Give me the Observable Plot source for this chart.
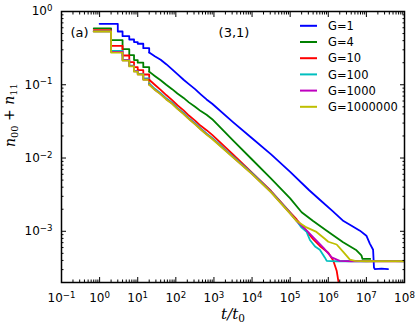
<!DOCTYPE html>
<html><head><meta charset="utf-8">
<script src="https://cdn.jsdelivr.net/npm/d3@7"></script>
<script src="https://cdn.jsdelivr.net/npm/@observablehq/plot@0.6"></script>
<style>body{margin:0;background:#fff}</style>
</head><body><div id="chart"></div>
<script>
const series = ["G=1","G=4","G=10","G=100","G=1000","G=1000000"];
const colors = ["#0000ff","#008000","#ff0000","#00bfbf","#bf00bf","#bfbf00"];

// early staircase times (t/t0)
const tEarlyG1 = [1,3,4,6,8];
const tEarly = [0.7,2,4,6,8];
const tMid = [10,14,20,28,40,56,80,110,160,220,320,450,640,900];

// early + mid values
const yStepG1 = [0.679,0.533,0.461,0.415,0.383, 0.363,0.316,0.275,0.245,0.219,0.191,0.162,0.140,0.117,0.102,0.0871,0.0741,0.0631,0.0550];
const yStepG4 = [0.589,0.407,0.307,0.254,0.217, 0.200,0.174,0.151,0.132,0.115,0.100,0.0871,0.0759,0.0661,0.0575,0.0501,0.0437,0.0389,0.0339];
const yStepG10 = [0.557,0.340,0.251,0.204,0.174, 0.158,0.138,0.117,0.100,0.0851,0.0724,0.0617,0.0525,0.0447,0.0380,0.0324,0.0275,0.0240,0.0207];
const yStepG100 = [0.537,0.291,0.219,0.182,0.155, 0.141,0.122,0.104,0.0881,0.0767,0.0653,0.0569,0.0484,0.0412,0.0351,0.0299,0.0254,0.0216,0.0188];
const yStepG1000 = [0.535,0.280,0.216,0.180,0.153, 0.139,0.118,0.101,0.0857,0.0746,0.0636,0.0554,0.0472,0.0401,0.0342,0.0291,0.0247,0.0211,0.0184];
const yStepG1e6 = [0.533,0.275,0.214,0.178,0.151, 0.138,0.117,0.100,0.0851,0.0741,0.0631,0.0550,0.0468,0.0398,0.0339,0.0288,0.0245,0.0209,0.0182];

// late-time values
const tLateG1 = [3160,1e4,3.16e4,1e5,3.16e5,6.31e5,1.26e6,2.51e6,3.98e6,6.76e6,1e7,1.23e7,1.5e7,1.58e7,1.66e7,2.5e7,3.7e7];
const yLateG1 = [0.0309,0.0186,0.0112,0.00646,0.00363,0.00263,0.00191,0.00138,0.00120,0.00102,8.7e-4,6.8e-4,5.6e-4,3.2e-4,3.05e-4,3.1e-4,3.05e-4];
const tLateG4 = [3160,1e4,3.16e4,1e5,2e5,4e5,9.1e5,2.45e6,5.5e6,7.4e6,7.9e6,1.26e7];
const yLateG4 = [0.0174,0.00955,0.00525,0.00282,0.00182,0.00138,0.00102,7.1e-4,5.5e-4,4.7e-4,4.2e-4,4.2e-4];
const tLateG10 = [3160,1e4,3.16e4,1e5,1.48e5,2.5e5,4e5,6e5,1e6,1.35e6,1.66e6,2e6,2.24e6];
const yLateG10 = [0.0112,0.00631,0.00355,0.00182,0.00145,0.00105,7.8e-4,6.3e-4,5.1e-4,4.0e-4,2.9e-4,1.6e-4,1e-4];
const tLateG100 = [3160,1e4,3.16e4,1e5,1.48e5,2e5,2.7e5,3.3e5,4.5e5,6e5,8.1e5,9.1e5,1.6e6,3.2e6,1e7,3.2e7,1e8];
const yLateG100 = [0.0105,0.0062,0.00347,0.00178,0.00138,0.00112,9.8e-4,7.6e-4,6.2e-4,5.6e-4,4.4e-4,3.95e-4,3.9e-4,3.93e-4,3.9e-4,3.95e-4,3.9e-4];
const tLateG1000 = [3160,1e4,3.16e4,1e5,1.48e5,2.5e5,4e5,7.4e5,1.23e6,2e6,4e6,1e7,1e8];
const yLateG1000 = [0.0103,0.00608,0.00342,0.00176,0.00138,0.00107,8.3e-4,6.0e-4,4.4e-4,3.95e-4,3.9e-4,3.9e-4,3.9e-4];
const tLateG1e6 = [3160,1e4,3.16e4,1e5,1.48e5,2.5e5,4.9e5,8.1e5,1e6,1.66e6,2.5e6,3.7e6,5e6,1e7,1e8];
const yLateG1e6 = [0.0102,0.00603,0.00339,0.00174,0.00138,0.00115,9.8e-4,7.9e-4,7.2e-4,6.6e-4,5.2e-4,4.1e-4,3.95e-4,3.9e-4,3.9e-4];

// tick values
const xMajor = [1e-1,1e0,1e1,1e2,1e3,1e4,1e5,1e6,1e7,1e8];
const yMajor = [1e-3,1e-2,1e-1,1e0];

const stepY = [yStepG1,yStepG4,yStepG10,yStepG100,yStepG1000,yStepG1e6];
const lateT = [tLateG1,tLateG4,tLateG10,tLateG100,tLateG1000,tLateG1e6];
const lateY = [yLateG1,yLateG4,yLateG10,yLateG100,yLateG1000,yLateG1e6];

const stepRows = [], lateRows = [];
series.forEach((s, i) => {
  const ts = (i === 0 ? tEarlyG1 : tEarly).concat(tMid);
  ts.forEach((t, j) => {
    const row = {s, t, v: stepY[i][j]};
    if (t <= 20) stepRows.push(row);
    if (t >= 20) lateRows.push(row);
  });
  lateT[i].forEach((t, j) => lateRows.push({s, t, v: lateY[i][j]}));
});

const minorOf = (lo, hi) => { const a = []; for (let e = lo; e < hi; e++) for (let m = 2; m <= 9; m++) a.push(m * Math.pow(10, e)); return a; };
const xMinor = minorOf(-1, 8);
const yMinor = minorOf(-4, 0).filter(d => d >= 2e-4);
const fmt = d => "10^" + Math.round(Math.log10(d));

const chart = Plot.plot({
  width: 415, height: 331,
  marginLeft: 61, marginRight: 11, marginTop: 11, marginBottom: 49,
  style: {fontFamily: "DejaVu Sans", fontSize: "12px", background: "white", color: "black"},
  x: {type: "log", domain: [0.1, 1e8]},
  y: {type: "log", domain: [2e-4, 1]},
  color: {domain: series, range: colors},
  marks: [
    Plot.line(stepRows, {x: "t", y: "v", z: "s", stroke: "s", curve: "step-after", strokeWidth: 1.8, clip: true}),
    Plot.line(lateRows, {x: "t", y: "v", z: "s", stroke: "s", strokeWidth: 1.8, clip: true}),
    Plot.frame({stroke: "black", strokeWidth: 1.5}),
    Plot.axisX(xMajor, {anchor: "bottom", tickSize: -5, fill: "none", label: null}),
    Plot.axisX(xMajor, {anchor: "top", tickSize: -5, fill: "none", label: null}),
    Plot.axisX(xMinor, {anchor: "bottom", tickSize: -2.5, fill: "none", label: null}),
    Plot.axisX(xMinor, {anchor: "top", tickSize: -2.5, fill: "none", label: null}),
    Plot.axisY(yMajor, {anchor: "left", tickSize: -5, fill: "none", label: null}),
    Plot.axisY(yMajor, {anchor: "right", tickSize: -5, fill: "none", label: null}),
    Plot.axisY(yMinor, {anchor: "left", tickSize: -2.5, fill: "none", label: null}),
    Plot.axisY(yMinor, {anchor: "right", tickSize: -2.5, fill: "none", label: null}),
    Plot.axisX(xMajor, {anchor: "bottom", tickSize: 0, tickPadding: 11, tickFormat: fmt, label: null, fontSize: 12}),
    Plot.axisY(yMajor, {anchor: "left", tickSize: 0, tickPadding: 9, tickFormat: fmt, label: null, fontSize: 12}),
    Plot.text(["t/t0"], {frameAnchor: "bottom", dy: 36.5, fontSize: 15, fontStyle: "italic", fontFamily: "DejaVu Serif"}),
    Plot.text(["n00 + n11"], {frameAnchor: "left", dx: -51, rotate: -90, fontSize: 14, fontStyle: "italic", fontFamily: "DejaVu Serif"}),
    Plot.text(["(a)"], {frameAnchor: "top-left", dx: 9, dy: 16, textAnchor: "start", fontSize: 13}),
    Plot.text(["(3,1)"], {frameAnchor: "top", dx: 1, dy: 16, fontSize: 13})
  ]
});

// superscripts / subscripts
const NS = "http://www.w3.org/2000/svg";
const span = (txt, attrs) => { const e = document.createElementNS(NS, "tspan"); for (const k in attrs) e.setAttribute(k, attrs[k]); e.textContent = txt; return e; };
chart.querySelectorAll("text").forEach(t => {
  const s = t.textContent;
  const m = /^10\^(-?\d+)$/.exec(s);
  if (m) {
    t.textContent = "10";
    t.appendChild(span(m[1].replace("-", "\u2212"), {dy: "-0.5em", "font-size": "0.72em"}));
  } else if (s === "t/t0") {
    t.textContent = "t/t";
    t.appendChild(span("0", {dy: "0.3em", "font-size": "0.7em", "font-style": "normal"}));
  } else if (s === "n00 + n11") {
    t.textContent = "n";
    t.appendChild(span("00", {dy: "0.3em", "font-size": "0.7em", "font-style": "normal"}));
    t.appendChild(span(" + ", {dy: "-0.3em", "font-style": "normal"}));
    t.appendChild(span("n", {}));
    t.appendChild(span("11", {dy: "0.3em", "font-size": "0.7em", "font-style": "normal"}));
  }
});

// legend
const svg = d3.select(chart);
const lg = svg.append("g").attr("font-family", "DejaVu Sans").attr("font-size", 11.5).attr("text-anchor", "start");
series.forEach((s, i) => {
  const y = 25.8 + i * 16.2;
  lg.append("line").attr("x1", 300).attr("x2", 317).attr("y1", y).attr("y2", y).attr("stroke", colors[i]).attr("stroke-width", 2);
  lg.append("text").attr("x", 328).attr("y", y).attr("dy", "0.36em").attr("fill", "black").attr("text-anchor", "start").text(s);
});

document.getElementById("chart").appendChild(chart);
</script>
</body></html>
